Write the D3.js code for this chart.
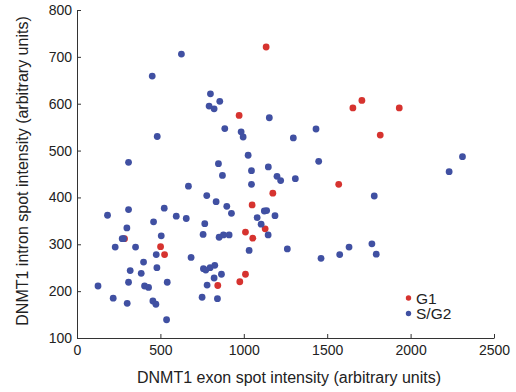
<!DOCTYPE html>
<html>
<head>
<meta charset="utf-8">
<script src="https://cdn.jsdelivr.net/npm/d3@7"></script>
<style>
  html, body { margin: 0; padding: 0; background: #fff; }
  svg { display: block; }
  text { font-family: "Liberation Sans", Arial, Helvetica, sans-serif; fill: #222; }
</style>
</head>
<body>
<svg id="chart" width="516" height="392"></svg>
<script>
// Data (exon intensity, intron intensity)
const g1X = [1134, 972, 1708, 1654, 1932, 1818, 1569, 1174, 1050, 1128, 1010, 1054, 285, 501, 525, 1010, 976, 844];
const g1Y = [721, 575, 607, 591, 591, 533, 428, 409, 384, 333, 326, 313, 312, 295, 278, 236, 220, 212];

const sg2X = [626, 451, 800, 856, 792, 822, 1153, 481, 886, 984, 996, 309, 848, 1026, 872, 1046, 1147, 1199,
  1433, 1297, 2311, 2231, 1449, 1221, 1309, 1782, 1123, 1137, 1187, 1104, 1146, 1261, 1463, 1575, 1631, 1768,
  1794, 668, 1046, 778, 834, 898, 926, 183, 309, 523, 595, 655, 459, 766, 1080, 1032, 756, 852, 878, 912,
  299, 271, 279, 229, 351, 505, 475, 684, 399, 319, 385, 479, 758, 772, 798, 826, 822, 866, 309, 541, 405,
  429, 126, 780, 217, 301, 455, 473, 750, 842, 537];
const sg2Y = [706, 659, 621, 605, 595, 589, 570, 530, 547, 540, 529, 475, 472, 490, 447, 457, 465, 445,
  546, 527, 487, 455, 477, 436, 440, 403, 371, 372, 361, 343, 320, 290, 270, 278, 294, 301,
  279, 424, 428, 404, 391, 381, 366, 362, 374, 377, 360, 355, 348, 344, 357, 287, 321, 315, 320, 320,
  335, 312, 312, 294, 294, 318, 278, 272, 262, 244, 238, 250, 248, 245, 250, 255, 228, 236, 219, 219, 211,
  208, 211, 213, 185, 174, 179, 172, 187, 184, 139];

const xTicks = [0, 500, 1000, 1500, 2000, 2500];
const yTicks = [100, 200, 300, 400, 500, 600, 700, 800];
const seriesNames = ["G1", "S/G2"];
const seriesColors = ["#d6332f", "#4050a2"];

const svg = d3.select("#chart");
const x = d3.scaleLinear().domain([0, 2500]).range([77, 494]);
const y = d3.scaleLinear().domain([100, 800]).range([338, 10]);

const xAxis = svg.append("g")
  .attr("transform", `translate(0,${y(100)})`)
  .call(d3.axisBottom(x).tickValues(xTicks).tickSizeInner(-4).tickSizeOuter(0).tickPadding(7).tickFormat(d3.format("d")));
const yAxis = svg.append("g")
  .attr("transform", `translate(${x(0)},0)`)
  .call(d3.axisLeft(y).tickValues(yTicks).tickSizeInner(-4).tickSizeOuter(0).tickPadding(5).tickFormat(d3.format("d")));

[xAxis, yAxis].forEach(a => {
  a.selectAll("path.domain").attr("stroke", "#333").attr("stroke-width", 1);
  a.selectAll(".tick line").attr("stroke", "#333");
  a.selectAll(".tick text").attr("font-size", 14).attr("fill", "#222")
    .attr("font-family", '"Liberation Sans", Arial, sans-serif');
});

// points: G1 first, then S/G2 on top
const g1 = g1X.map((v, i) => ({x: v, y: g1Y[i]}));
const sg2 = sg2X.map((v, i) => ({x: v, y: sg2Y[i]}));

svg.append("g").selectAll("circle").data(g1).join("circle")
  .attr("cx", d => x(d.x)).attr("cy", d => y(d.y)).attr("r", 3.4)
  .attr("fill", seriesColors[0]);
svg.append("g").selectAll("circle").data(sg2).join("circle")
  .attr("cx", d => x(d.x)).attr("cy", d => y(d.y)).attr("r", 3.4)
  .attr("fill", seriesColors[1]);

// legend
const leg = svg.append("g");
seriesNames.forEach((name, i) => {
  leg.append("circle").attr("cx", 408.5).attr("cy", 298 + i * 15.5).attr("r", 2.7).attr("fill", seriesColors[i]);
  leg.append("text").attr("x", 416).attr("y", 303.5 + i * 15.5).attr("font-size", 15.5).text(name);
});

// axis titles
svg.append("text").attr("x", 289).attr("y", 383).attr("text-anchor", "middle").attr("font-size", 16)
  .text("DNMT1 exon spot intensity (arbitrary units)");
svg.append("text").attr("transform", "translate(27.5,171) rotate(-90)").attr("text-anchor", "middle").attr("font-size", 16)
  .text("DNMT1 intron spot intensity (arbitrary units)");
</script>
</body>
</html>
